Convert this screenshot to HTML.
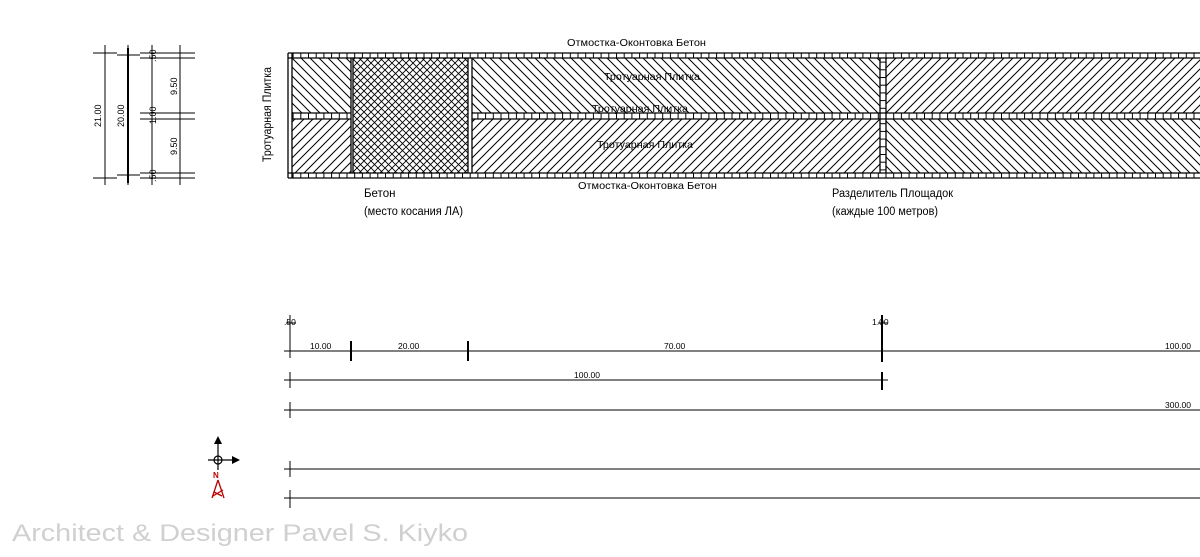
<!DOCTYPE html>
<html><head><meta charset="utf-8"><style>
html,body{margin:0;padding:0;background:#fff;width:1200px;height:557px;overflow:hidden}
svg{display:block}
text{font-family:"Liberation Sans",sans-serif;fill:#000}
</style></head><body>
<svg width="1200" height="557" viewBox="0 0 1200 557" xmlns="http://www.w3.org/2000/svg">
<defs>
<pattern id="hb" width="9" height="9" patternUnits="userSpaceOnUse"><path d="M-1,-1 L10,10 M-1,8 L1,10 M8,-1 L10,1" stroke="#000" stroke-width="1"/></pattern>
<pattern id="hf" width="9" height="9" patternUnits="userSpaceOnUse"><path d="M-1,10 L10,-1 M-1,1 L1,-1 M8,10 L10,8" stroke="#000" stroke-width="1"/></pattern>
<pattern id="hx" width="7" height="7" patternUnits="userSpaceOnUse"><path d="M-1,-1 L8,8 M-1,8 L8,-1" stroke="#000" stroke-width="0.9"/></pattern>
<pattern id="tick" width="7.7" height="6" patternUnits="userSpaceOnUse"><path d="M0.5,0 V6" stroke="#000" stroke-width="1"/></pattern>
<pattern id="tickv" width="6" height="7.7" patternUnits="userSpaceOnUse"><path d="M0,0.5 H6" stroke="#000" stroke-width="1"/></pattern>
</defs>
<rect x="292" y="58" width="59" height="55" fill="url(#hb)"/>
<rect x="292" y="119" width="59" height="54" fill="url(#hf)"/>
<rect x="353" y="58" width="115" height="115" fill="url(#hx)"/>
<rect x="472" y="58" width="408" height="55" fill="url(#hb)"/>
<rect x="472" y="119" width="408" height="54" fill="url(#hf)"/>
<rect x="886" y="58" width="314" height="55" fill="url(#hf)"/>
<rect x="886" y="119" width="314" height="54" fill="url(#hb)"/>
<rect x="288" y="53" width="912" height="5" fill="url(#tick)"/>
<rect x="288" y="173" width="912" height="5" fill="url(#tick)"/>
<rect x="292" y="113" width="59" height="6" fill="url(#tick)"/>
<rect x="472" y="113" width="728" height="6" fill="url(#tick)"/>
<rect x="880" y="58" width="6" height="115" fill="#fff"/>
<rect x="880" y="58" width="6" height="115" fill="url(#tickv)"/>
<rect x="880" y="113" width="6" height="6" fill="#fff"/>
<g stroke="#000" stroke-width="1.3" fill="none">
<path d="M288,53 H1200 M288,58 H1200 M288,173 H1200 M288,178 H1200 M292,113 H351 M472,113 H1200 M292,119 H351 M472,119 H1200"/>
<path d="M288,53 V178 M292,53 V178 M351,58 V173 M353,58 V173 M468,58 V173 M472,58 V173 M880,58 V173 M886,58 V173"/>
</g>
<text x="567" y="46" font-size="10.5" textLength="139" lengthAdjust="spacingAndGlyphs">Отмостка-Оконтовка Бетон</text>
<text x="604" y="80" font-size="10.5" textLength="96" lengthAdjust="spacingAndGlyphs">Тротуарная Плитка</text>
<text x="592" y="112" font-size="10.5" textLength="96" lengthAdjust="spacingAndGlyphs">Тротуарная Плитка</text>
<text x="597" y="148" font-size="10.5" textLength="96" lengthAdjust="spacingAndGlyphs">Тротуарная Плитка</text>
<text x="578" y="189" font-size="10.5" textLength="139" lengthAdjust="spacingAndGlyphs">Отмостка-Оконтовка Бетон</text>
<text transform="translate(271,162) rotate(-90)" font-size="11.5" textLength="95" lengthAdjust="spacingAndGlyphs">Тротуарная Плитка</text>
<text x="364" y="197" font-size="11.5">Бетон</text>
<text x="364" y="215" font-size="11.5" textLength="99" lengthAdjust="spacingAndGlyphs">(место косания ЛА)</text>
<text x="832" y="197" font-size="11.5" textLength="121" lengthAdjust="spacingAndGlyphs">Разделитель Площадок</text>
<text x="832" y="215" font-size="11.5" textLength="106" lengthAdjust="spacingAndGlyphs">(каждые 100 метров)</text>
<g stroke="#000" stroke-width="1" fill="none">
<path d="M105,45 V185 M128,45 V185 M152,45 V185 M180,45 V185"/>
<path d="M93,53 H117 M117,55 H140 M140,53 H195 M140,58 H195 M140,113 H195 M140,119 H195 M117,175 H140 M93,178 H117 M140,173 H195 M140,178 H195"/>
</g>
<g stroke="#000" stroke-width="2"><path d="M128,48 V183"/></g>
<g font-size="9">
<text transform="translate(101,127) rotate(-90)">21.00</text>
<text transform="translate(124,127) rotate(-90)">20.00</text>
<text transform="translate(177,95) rotate(-90)">9.50</text>
<text transform="translate(177,155) rotate(-90)">9.50</text>
<text transform="translate(156,62) rotate(-90)">.50</text>
<text transform="translate(156,124) rotate(-90)">1.00</text>
<text transform="translate(156,182) rotate(-90)">.50</text>
</g>
<g stroke="#000" stroke-width="1" fill="none">
<path d="M284,351 H1200 M284,380 H888 M284,410 H1200 M284,469 H1200 M284,498 H1200"/>
<path d="M290,315 V358 M286,323 H296 M290,372 V388 M290,402 V418 M290,461 V477 M290,490 V508"/>
<path d="M878,323 H888" />
</g>
<g stroke="#000" stroke-width="2" fill="none">
<path d="M351,341 V361 M468,341 V361 M882,315 V362 M882,372 V390"/>
</g>
<g font-size="8.5">
<text x="310" y="349">10.00</text>
<text x="398" y="349">20.00</text>
<text x="664" y="349">70.00</text>
<text x="1165" y="349">100.00</text>
<text x="574" y="378">100.00</text>
<text x="1165" y="408">300.00</text>
<text x="284" y="325">.50</text>
<text x="872" y="325">1.00</text>
</g>
<g stroke="#000" stroke-width="1.2" fill="none">
<path d="M218,440 V470 M208,460 H234"/>
<circle cx="218" cy="460" r="4"/>
</g>
<path d="M218,436 L214,444 H222 Z M240,460 L232,456 V464 Z" fill="#000"/>
<text x="213" y="478" font-size="8" style="fill:#b00;font-weight:bold">N</text>
<path d="M218,480 L212,498 M218,480 L224,498 M214,492 L222,496 M213,496 L223,490" stroke="#b00" stroke-width="1.3"/>
<text x="12" y="541" font-size="24" textLength="456" lengthAdjust="spacingAndGlyphs" style="fill:#d0d0d0">Architect &amp; Designer Pavel S. Kiyko</text>
</svg>
</body></html>
